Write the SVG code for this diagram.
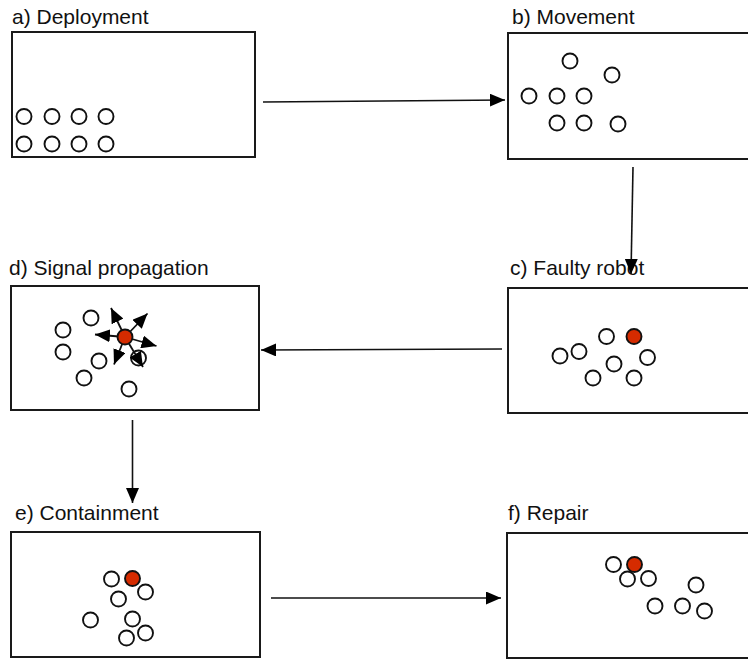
<svg xmlns="http://www.w3.org/2000/svg" width="748" height="660" viewBox="0 0 748 660">
<defs>
<style>
.frame{fill:#fff;stroke:#1a1a1a;stroke-width:2}
.r{fill:#fff;stroke:#111;stroke-width:1.9}
.f{fill:#d52b00;stroke:#111;stroke-width:1.9}
.lbl{font-family:"Liberation Sans",Arial,Helvetica,sans-serif;font-size:21px;fill:#111}
.conn{stroke:#111;stroke-width:1.6;fill:none;marker-end:url(#ah)}
.sig{stroke:#111;stroke-width:1.8;fill:none;marker-end:url(#sh)}
</style>
<marker id="ah" markerUnits="userSpaceOnUse" markerWidth="16" markerHeight="13" refX="15" refY="6.5" orient="auto"><path d="M0,0 L15,6.5 L0,13 z" fill="#000"/></marker>
<marker id="sh" markerUnits="userSpaceOnUse" markerWidth="16" markerHeight="13" refX="15" refY="6.5" orient="auto"><path d="M0,0 L15,6.5 L0,13 z" fill="#000"/></marker>
</defs>
<rect width="748" height="660" fill="#fff"/>

<g id="panel-a">
<text class="lbl" x="12" y="24">a) Deployment</text>
<rect class="frame" x="12" y="32" width="243" height="125"/>
<circle class="r" cx="24" cy="116.5" r="7.5"/><circle class="r" cx="52" cy="116.5" r="7.5"/><circle class="r" cx="79" cy="116.5" r="7.5"/><circle class="r" cx="106" cy="116.5" r="7.5"/>
<circle class="r" cx="24" cy="144" r="7.5"/><circle class="r" cx="52" cy="144" r="7.5"/><circle class="r" cx="79" cy="144" r="7.5"/><circle class="r" cx="106" cy="144" r="7.5"/>
</g>

<g id="panel-b">
<text class="lbl" x="512" y="24">b) Movement</text>
<rect class="frame" x="508" y="33" width="260" height="126"/>
<circle class="r" cx="570" cy="61" r="7.5"/><circle class="r" cx="612" cy="75" r="7.5"/>
<circle class="r" cx="529" cy="96" r="7.5"/><circle class="r" cx="557" cy="96" r="7.5"/><circle class="r" cx="584" cy="96" r="7.5"/>
<circle class="r" cx="557" cy="123" r="7.5"/><circle class="r" cx="584" cy="123" r="7.5"/><circle class="r" cx="618" cy="124" r="7.5"/>
</g>

<g id="panel-c">
<text class="lbl" x="510" y="275">c) Faulty robot</text>
<rect class="frame" x="508" y="288" width="260" height="125"/>
<circle class="r" cx="606.5" cy="336.5" r="7.5"/><circle class="f" cx="634" cy="336.5" r="7.5"/>
<circle class="r" cx="579" cy="351.5" r="7.5"/><circle class="r" cx="560" cy="356" r="7.5"/>
<circle class="r" cx="614" cy="364" r="7.5"/><circle class="r" cx="647.5" cy="357.5" r="7.5"/>
<circle class="r" cx="593" cy="378" r="7.5"/><circle class="r" cx="634" cy="378" r="7.5"/>
</g>

<g id="panel-d">
<text class="lbl" x="9" y="275">d) Signal propagation</text>
<rect class="frame" x="11" y="286" width="248" height="124"/>
<circle class="r" cx="91" cy="318" r="7.5"/><circle class="r" cx="63" cy="330" r="7.5"/>
<circle class="r" cx="63" cy="352" r="7.5"/><circle class="r" cx="99" cy="361" r="7.5"/>
<circle class="r" cx="84" cy="378" r="7.5"/><circle class="r" cx="129" cy="389" r="7.5"/>
<circle class="r" cx="138.5" cy="358" r="7.5"/>
<g id="signals">
<path class="sig" d="M125,337 L111,308"/>
<path class="sig" d="M125,337 L147.5,313.5"/>
<path class="sig" d="M125,337 L95,334.5"/>
<path class="sig" d="M125,337 L156.5,346"/>
<path class="sig" d="M125,337 L114,364.5"/>
<path class="sig" d="M125,337 L143,367"/>
</g>
<circle class="f" cx="125" cy="337" r="7.5"/>
</g>

<g id="panel-e">
<text class="lbl" x="15" y="520">e) Containment</text>
<rect class="frame" x="11" y="532" width="249" height="125"/>
<circle class="r" cx="111.5" cy="579" r="7.5"/><circle class="f" cx="132.5" cy="578.5" r="7.5"/>
<circle class="r" cx="145.5" cy="592" r="7.5"/><circle class="r" cx="118.5" cy="599" r="7.5"/>
<circle class="r" cx="90.5" cy="620" r="7.5"/><circle class="r" cx="132.5" cy="619" r="7.5"/>
<circle class="r" cx="145.5" cy="633" r="7.5"/><circle class="r" cx="126.5" cy="638" r="7.5"/>
</g>

<g id="panel-f">
<text class="lbl" x="508" y="520">f) Repair</text>
<rect class="frame" x="507" y="533" width="260" height="125"/>
<circle class="r" cx="613.5" cy="564.5" r="7.5"/><circle class="f" cx="634.5" cy="564.5" r="7.5"/>
<circle class="r" cx="627.5" cy="579" r="7.5"/><circle class="r" cx="648.5" cy="578.5" r="7.5"/>
<circle class="r" cx="696" cy="585" r="7.5"/>
<circle class="r" cx="655" cy="606" r="7.5"/><circle class="r" cx="682.5" cy="606" r="7.5"/><circle class="r" cx="704.5" cy="611" r="7.5"/>
</g>

<g id="connectors">
<path class="conn" d="M263,102 L505,100"/>
<path class="conn" d="M633,167 L631,274"/>
<path class="conn" d="M502,349 L261,350"/>
<path class="conn" d="M132.5,420 L132.5,503"/>
<path class="conn" d="M271,598 L501,598"/>
</g>
</svg>
